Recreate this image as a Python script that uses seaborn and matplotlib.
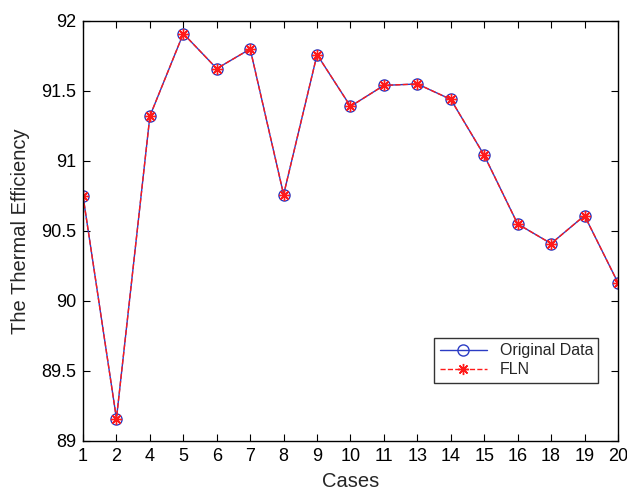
import matplotlib
matplotlib.use("Agg")
import matplotlib.pyplot as plt
import seaborn as sns
import pandas as pd
import numpy as np

cases = ["1", "2", "4", "5", "6", "7", "8", "9", "10", "11", "13", "14", "15", "16", "18", "19", "20"]
original = [90.75, 89.16, 91.32, 91.91, 91.66, 91.80, 90.76, 91.76, 91.39, 91.54,
            91.55, 91.44, 91.04, 90.55, 90.41, 90.61, 90.13]
fln = [90.75, 89.16, 91.32, 91.91, 91.66, 91.80, 90.76, 91.76, 91.39, 91.54,
       91.55, 91.44, 91.04, 90.55, 90.41, 90.61, 90.13]
yticks = [89, 89.5, 90, 90.5, 91, 91.5, 92]
ytick_labels = ["89", "89.5", "90", "90.5", "91", "91.5", "92"]

sns.set_theme(style="white")
plt.rcParams['font.family'] = ['Liberation Sans', 'DejaVu Sans']

df = pd.DataFrame({"pos": np.arange(len(cases)), "original": original, "fln": fln})

fig = plt.figure(figsize=(6.27, 4.96), dpi=100)
ax = fig.add_axes([0.1324, 0.1109, 0.8532, 0.8468])

sns.lineplot(data=df, x="pos", y="original", ax=ax, color="#2b3cc4", linewidth=1.0,
             marker="o", markersize=8, markerfacecolor="none", markeredgecolor="#2b3cc4",
             markeredgewidth=1.0, label="Original Data")
sns.lineplot(data=df, x="pos", y="fln", ax=ax, color="#ff1a1a", linewidth=1.0,
             linestyle="--", marker=(8, 2, 0), markersize=8, markeredgecolor="#ff1a1a",
             markerfacecolor="#ff1a1a", markeredgewidth=1.0, label="FLN")

ax.set_xlim(0, len(cases) - 1)
ax.set_ylim(89, 92)
ax.set_xticks(df["pos"])
ax.set_xticklabels(cases)
ax.set_yticks(yticks)
ax.set_yticklabels(ytick_labels)
ax.set_xlabel("Cases", fontsize=14.5, labelpad=5)
ax.set_ylabel("The Thermal Efficiency", fontsize=14.5, labelpad=8)
ax.tick_params(direction="in", length=5, width=0.8, labelsize=13, colors="black",
               top=True, right=True, bottom=True, left=True, pad=5)
for s in ax.spines.values():
    s.set_visible(True)
    s.set_color("black")
    s.set_linewidth(1.0)

leg = ax.legend(loc="lower left", bbox_to_anchor=(0.656, 0.138, 0.307, 0.122),
                mode="expand", fontsize=11.5, frameon=True, fancybox=False,
                handlelength=3.0, borderaxespad=0, borderpad=0.35, labelspacing=0.25)
leg.get_frame().set_edgecolor("black")
leg.get_frame().set_linewidth(1.0)

fig.savefig("out.png", dpi=100)
